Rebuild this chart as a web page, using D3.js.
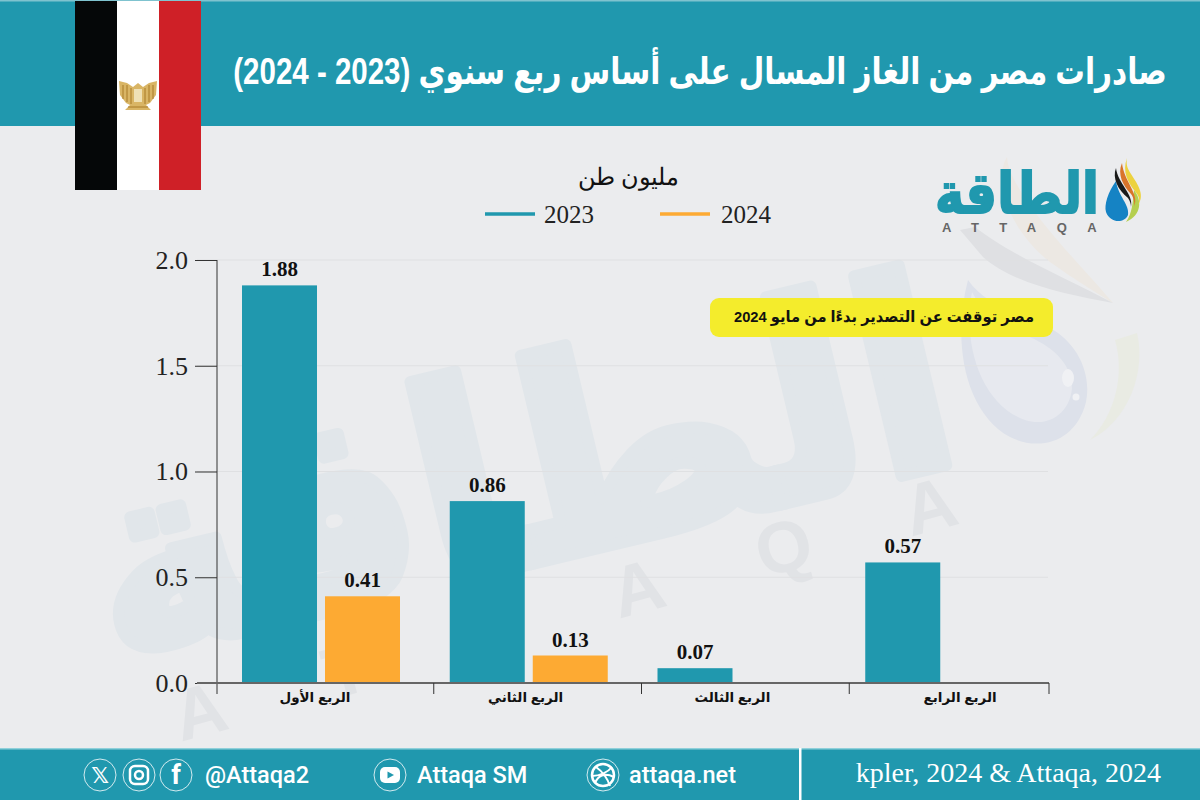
<!DOCTYPE html>
<html><head><meta charset="utf-8">
<style>html,body{margin:0;padding:0;background:#ebecee}svg{display:block}</style>
<script src="https://cdnjs.cloudflare.com/ajax/libs/d3/7.8.5/d3.min.js"></script>
</head><body><svg id="c" width="1200" height="800"></svg>
<script>
const categories = ["الربع الأول","الربع الثاني","الربع الثالث","الربع الرابع"];
const years = ["2023","2024"];
const values2023 = [1.88,0.86,0.07,0.57];
const values2024 = [0.41,0.13,null,null];
const yTicks = [0,0.5,1,1.5,2];
const titleText = "صادرات مصر من الغاز المسال على أساس ربع سنوي (2023 - 2024)";
const unitText = "مليون طن";
const noteText = "مصر توقفت عن التصدير بدءًا من مايو 2024";
const sourceText = "kpler, 2024 & Attaqa, 2024";
const socials = ["@Attaqa2","Attaqa SM","attaqa.net"];

const TEAL="#2098ae", ORANGE="#fdaa33", AR="'Liberation Sans','DejaVu Sans',sans-serif", SERIF="'Liberation Serif','DejaVu Serif',serif";
const svg=d3.select("#c");
svg.append("rect").attr("width",1200).attr("height",800).attr("fill","#ebecee");

// watermark
const wm=svg.append("g");
wm.append("text").attr("transform","translate(540,562) rotate(-13.4)").attr("text-anchor","middle").attr("direction","rtl").attr("font-family",AR).attr("font-weight",700)
  .attr("font-size",270).attr("fill","#e1e6ea").attr("stroke","#e1e6ea").attr("stroke-width",12).attr("stroke-linejoin","round").attr("textLength",880).attr("lengthAdjust","spacingAndGlyphs").text("الطاقة");
const wmLetters=["A","T","T","A","Q","A"];
const wmX=d3.scalePoint().domain(d3.range(6)).range([206,936]);
const wmY=d3.scalePoint().domain(d3.range(6)).range([735,530]);
wm.selectAll(".l").data(wmLetters).join("text").attr("font-family",AR).attr("font-weight",700).attr("font-size",72).attr("fill","#e1e3e6").attr("text-anchor","middle")
  .attr("transform",(d,i)=>`translate(${wmX(i)},${wmY(i)}) rotate(-15)`).text(d=>d);
// watermark drop and swooshes
const drop=svg.append("g");
drop.append("path").attr("d","M1137 333C1146 370 1130 420 1090 440C1115 415 1125 375 1115 340Z").attr("fill","#e9ebe3");
drop.append("path").attr("d","M1007 157C990 185 1015 235 1050 262C1075 280 1100 295 1113 303C1085 270 1050 235 1030 205C1018 188 1008 172 1007 157Z").attr("fill","#ece8e3");
drop.append("path").attr("d","M960 230L975 227C1010 255 1070 280 1113 303C1070 295 1015 285 983 257Z").attr("fill","#dfe0e3");
drop.append("path").attr("d","M968 280C952 340 964 412 1010 437C1040 452 1076 442 1086 402C1092 372 1076 342 1050 328C1022 316 985 305 968 280Z").attr("fill","#dde1ea");
drop.append("path").attr("d","M972 292C962 345 982 405 1025 420C1050 428 1070 412 1072 388C1072 362 1050 345 1025 335C1000 325 982 312 972 292Z").attr("fill","#e7e9ef");
drop.append("ellipse").attr("cx",1068).attr("cy",378).attr("rx",6).attr("ry",9).attr("fill","#f0f1f4");
drop.append("circle").attr("cx",1076).attr("cy",397).attr("r",3.5).attr("fill","#f0f1f4");

// header
svg.append("rect").attr("y",0).attr("width",1200).attr("height",126).attr("fill",TEAL);
svg.append("rect").attr("y",0).attr("width",1200).attr("height",1.5).attr("fill","#7fc3cf");
const title=svg.append("text").attr("text-anchor","middle").attr("direction","rtl").attr("font-family",AR).attr("font-weight",700).attr("font-size",37).attr("fill","#fff").text(titleText);
title.attr("transform",`translate(700,84) scale(${934/title.node().getComputedTextLength()},1)`);
// flag
[["#050708",75],["#ffffff",117],["#cf2027",159]].forEach(([f,x])=>svg.append("rect").attr("x",x).attr("y",1).attr("width",42).attr("height",189).attr("fill",f));
const eagle=svg.append("g");
eagle.append("path").attr("d","M119 81L127 83L133 87L138 83L143 87L149 83L157 81L156 95L150 103L146 105L151 110L125 110L130 105L126 103L120 95Z").attr("fill","#d9b565");
eagle.append("path").attr("d","M123 85V99M127 85V102M131 88V104M145 88V104M149 85V102M153 85V99M128 107H148").attr("stroke","#a87a28").attr("stroke-width",1).attr("fill","none");
eagle.append("rect").attr("x",134).attr("y",89).attr("width",8).attr("height",13).attr("fill","#efe0b5");

// legend + unit
svg.append("text").attr("x",628).attr("y",185).attr("text-anchor","middle").attr("direction","rtl").attr("font-family",SERIF).attr("font-size",24).attr("fill","#111").text(unitText);
const legX=d3.scaleOrdinal().domain(years).range([485,660]);
const colour=d3.scaleOrdinal().domain(years).range([TEAL,ORANGE]);
const lg=svg.selectAll(".lg").data(years).join("g").attr("transform",d=>`translate(${legX(d)},214)`);
lg.append("line").attr("x2",50).attr("stroke",d=>colour(d)).attr("stroke-width",3.5);
lg.append("text").attr("x",d=>d==="2023"?59:61).attr("y",9).attr("font-family",SERIF).attr("font-size",25).attr("fill","#222").text(d=>d);

// logo
const logo=svg.append("g");
logo.append("text").attr("x",1017).attr("y",213).attr("text-anchor","middle").attr("direction","rtl").attr("font-family",AR).attr("font-weight",700).attr("font-size",56).attr("fill",TEAL).attr("stroke",TEAL).attr("stroke-width",2).attr("textLength",164).attr("lengthAdjust","spacingAndGlyphs").text("الطاقة");
logo.append("text").attr("x",942).attr("y",232).attr("font-family",AR).attr("font-weight",700).attr("font-size",13).attr("letter-spacing",20.5).attr("fill","#666").text("ATTAQA");
logo.append("path").attr("d","M1116 181C1108 192 1104 205 1106 212C1110 223 1124 224 1128 215C1130 205 1118 196 1116 181Z").attr("fill","#1583c4");
logo.append("path").attr("d","M1134 190C1142 200 1142 215 1126 222C1132 214 1133 202 1134 190Z").attr("fill","#b5cf4f");
logo.append("path").attr("d","M1127 158C1122 172 1128 182 1134 190C1140 197 1140 200 1138 205C1146 194 1136 182 1131 174C1127 168 1126 164 1127 158Z").attr("fill","#ecd23f");
logo.append("path").attr("d","M1122 163C1117 174 1123 186 1131 194C1134 198 1135 204 1134 207C1140 194 1124 182 1122 163Z").attr("fill","#d9742a");
logo.append("path").attr("d","M1116 168C1112 178 1118 190 1128 198C1130 201 1131 204 1131 207C1134 194 1118 184 1116 168Z").attr("fill","#1a1a1a");

// chart
const y=d3.scaleLinear().domain([0,2]).range([683,260]);
const x=d3.scaleBand().domain(categories).range([226,1057]).paddingInner(0).paddingOuter(0);
const barW=75;
svg.append("g").selectAll("line").data(yTicks.filter(d=>d>0)).join("line")
  .attr("x1",197).attr("x2",1048).attr("y1",y).attr("y2",y).attr("stroke","#dfe0e2").attr("stroke-width",1);

const series=[{k:"2023",v:values2023,off:0},{k:"2024",v:values2024,off:83}];
series.forEach(s=>{
  const data=categories.map((c,i)=>({c,v:s.v[i]})).filter(d=>d.v!=null);
  svg.append("g").selectAll("rect").data(data).join("rect")
    .attr("x",d=>x(d.c)+16+s.off).attr("width",barW).attr("y",d=>y(d.v)).attr("height",d=>y(0)-y(d.v)).attr("fill",colour(s.k));
  svg.append("g").selectAll("text").data(data).join("text")
    .attr("x",d=>x(d.c)+16+s.off+barW/2).attr("y",d=>y(d.v)-9).attr("text-anchor","middle")
    .attr("font-family",SERIF).attr("font-weight",700).attr("font-size",21).attr("fill","#111").text(d=>d.v.toFixed(2));
});

// y axis
const ya=svg.append("g").attr("transform","translate(217,0)").call(d3.axisLeft(y).tickValues(yTicks).tickFormat(d3.format(".1f")).tickSize(22).tickPadding(7));
ya.select(".domain").attr("stroke","#333").attr("d","M0,260V694");
ya.selectAll("line").attr("stroke","#333");
ya.selectAll("text").attr("font-family",SERIF).attr("font-size",26).attr("fill","#222");
// x axis
const labelNudge=[-15,-12,-13,7];
const xa=svg.append("g").attr("transform","translate(0,683)").call(d3.axisBottom(x).tickSize(0).tickPadding(9));
xa.select(".domain").remove();
svg.append("line").attr("x1",197).attr("x2",1049).attr("y1",y(0)).attr("y2",y(0)).attr("stroke","#666").attr("stroke-width",2);
xa.selectAll("text").attr("font-family",AR).attr("font-weight",700).attr("font-size",13.5).attr("fill","#111").attr("direction","rtl").attr("dx",(d,i)=>labelNudge[i]);
svg.append("g").selectAll("line").data(categories.slice(1)).join("line")
  .attr("x1",d=>x(d)).attr("x2",d=>x(d)).attr("y1",683).attr("y2",694).attr("stroke","#333");
svg.append("line").attr("x1",1049).attr("x2",1049).attr("y1",683).attr("y2",694).attr("stroke","#333");

// note
svg.append("rect").attr("x",710).attr("y",298).attr("width",343).attr("height",39).attr("rx",9).attr("fill","#f4ec2c");
svg.append("text").attr("x",884).attr("y",322).attr("text-anchor","middle").attr("direction","rtl").attr("font-family",AR).attr("font-weight",700).attr("font-size",15.5).attr("fill","#111").attr("textLength",300).attr("lengthAdjust","spacingAndGlyphs").text(noteText);

// footer
svg.append("rect").attr("y",748).attr("width",1200).attr("height",52).attr("fill",TEAL);
svg.append("rect").attr("y",748).attr("width",1200).attr("height",1.5).attr("fill","#8fd0da");
svg.append("rect").attr("x",799).attr("y",748).attr("width",2.5).attr("height",52).attr("fill","#fff");
svg.append("text").attr("x",1161).attr("y",782).attr("text-anchor","end").attr("font-family",SERIF).attr("font-size",28).attr("fill","#fff").text(sourceText);
const socX=[205,417,629];
svg.selectAll(".s").data(socials).join("text").attr("x",(d,i)=>socX[i]).attr("y",783).attr("font-family","Roboto,sans-serif").attr("font-weight",500).attr("font-size",23.5).attr("fill","#fff").text(d=>d);
const ic=[[100,"𝕏"],[139,""],[176,"f"],[390,""],[603,""]];
const icons=svg.append("g").attr("fill","none").attr("stroke","#fff");
ic.forEach(([cx,t])=>{
  icons.append("circle").attr("cx",cx).attr("cy",775).attr("r",16).attr("stroke-width",.8);
  if(t) icons.append("text").attr("x",cx).attr("y",t==="f"?784:783).attr("text-anchor","middle").attr("fill","#fff").attr("stroke","none").attr("font-family",t==="f"?"Roboto":"'DejaVu Sans'").attr("font-weight",700).attr("font-size",t==="f"?27:22).text(t);
});
icons.append("rect").attr("x",130).attr("y",766).attr("width",18).attr("height",18).attr("rx",5).attr("stroke-width",2.5);
icons.append("circle").attr("cx",139).attr("cy",775).attr("r",4).attr("stroke-width",2.5);
icons.append("rect").attr("x",380).attr("y",767).attr("width",20).attr("height",16).attr("rx",5).attr("fill","#fff").attr("stroke","none");
icons.append("path").attr("d","M387.5 771.5L394 775L387.5 778.5Z").attr("fill",TEAL).attr("stroke","none");
icons.append("circle").attr("cx",603).attr("cy",775).attr("r",11).attr("stroke-width",2.5);
icons.append("path").attr("d","M596 767C603 772 608 780 610 786M592 776C600 776 608 772 612 767M595 783C598 776 604 772 614 777").attr("stroke-width",2);
</script></body></html>
